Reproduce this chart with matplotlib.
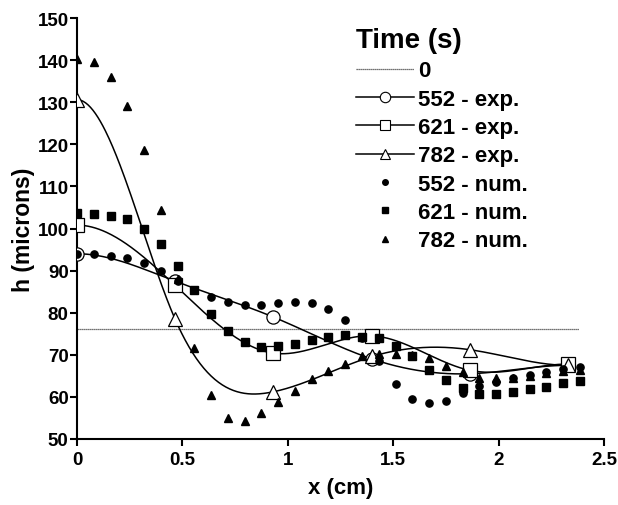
import matplotlib
matplotlib.use('Agg')
import matplotlib.pyplot as plt
from matplotlib.lines import Line2D
import numpy as np

# experimental points (fitted with smooth curves)
x_exp = [0.0, 0.465, 0.93, 1.40, 1.865, 2.33]
h552_exp = [94.0, 87.5, 79.0, 69.0, 65.5, 67.5]
h621_exp = [100.8, 86.5, 70.4, 74.5, 66.3, 67.8]
h782_exp = [130.6, 78.5, 61.2, 69.6, 71.2, 67.5]

# numerical points
x_num = [0.0, 0.08, 0.159, 0.239, 0.318, 0.398, 0.477, 0.557, 0.636, 0.716,
         0.795, 0.875, 0.954, 1.034, 1.113, 1.193, 1.272, 1.352, 1.431, 1.511,
         1.59, 1.67, 1.749, 1.829, 1.908, 1.988, 2.067, 2.147, 2.226, 2.306, 2.385]
h552_num = [94.0, 93.9, 93.5, 92.9, 91.8, 89.8, 87.5, 85.5, 83.8, 82.6,
            81.9, 81.9, 82.2, 82.6, 82.2, 80.9, 78.2, 74.0, 68.5, 63.1,
            59.6, 58.5, 59.1, 61.0, 62.5, 63.6, 64.4, 65.2, 66.0, 66.7, 67.0]
h621_num = [103.7, 103.4, 103.0, 102.3, 100.0, 96.2, 91.0, 85.5, 79.8, 75.6,
            73.1, 71.9, 72.1, 72.6, 73.5, 74.3, 74.8, 74.3, 74.0, 72.2,
            69.8, 66.5, 63.9, 62.0, 60.8, 60.6, 61.2, 61.8, 62.4, 63.2, 63.8]
h782_num = [140.3, 139.5, 135.9, 129.2, 118.7, 104.4, 88.0, 71.7, 60.5, 55.0,
            54.3, 56.1, 58.8, 61.5, 64.3, 66.1, 67.8, 69.6, 70.3, 70.2,
            70.0, 69.2, 67.4, 65.8, 64.6, 64.4, 64.6, 65.0, 65.6, 66.2, 66.5]

h0_level = 76.2
h0_x = [0.0, 2.38]


def clamped_spline(x, y, xs):
    # cubic spline with zero slope at both ends
    x = np.asarray(x, float)
    y = np.asarray(y, float)
    n = len(x)
    h = np.diff(x)
    A = np.zeros((n, n))
    b = np.zeros(n)
    A[0, 0], A[0, 1] = 2 * h[0], h[0]
    b[0] = 6 * ((y[1] - y[0]) / h[0])
    for i in range(1, n - 1):
        A[i, i - 1] = h[i - 1]
        A[i, i] = 2 * (h[i - 1] + h[i])
        A[i, i + 1] = h[i]
        b[i] = 6 * ((y[i + 1] - y[i]) / h[i] - (y[i] - y[i - 1]) / h[i - 1])
    A[-1, -2], A[-1, -1] = h[-1], 2 * h[-1]
    b[-1] = 6 * (0 - (y[-1] - y[-2]) / h[-1])
    M = np.linalg.solve(A, b)
    idx = np.clip(np.searchsorted(x, xs) - 1, 0, n - 2)
    x0, x1 = x[idx], x[idx + 1]
    hh = x1 - x0
    return (M[idx] * (x1 - xs) ** 3 / (6 * hh) + M[idx + 1] * (xs - x0) ** 3 / (6 * hh)
            + (y[idx] / hh - M[idx] * hh / 6) * (x1 - xs)
            + (y[idx + 1] / hh - M[idx + 1] * hh / 6) * (xs - x0))


plt.rcParams['font.family'] = 'Liberation Sans'
plt.rcParams['font.weight'] = 'bold'

fig = plt.figure(figsize=(6.18, 5.06), dpi=100)
ax = fig.add_axes([77 / 618, 66 / 506, 527 / 618, 421 / 506])

xs = np.linspace(x_exp[0], x_exp[-1], 400)

ax.plot(h0_x, [h0_level, h0_level], color='#444444', lw=0.9, ls=(0, (1, 0.6)))

exp_series = [(h552_exp, 'o'), (h621_exp, 's'), (h782_exp, '^')]
for hy, mk in exp_series:
    ax.plot(xs, clamped_spline(x_exp, hy, xs), color='black', lw=1.1)
    ax.plot(x_exp, hy, ls='none', marker=mk, ms=9.5, mfc='white',
            mec='black', mew=0.9, zorder=4)

ax.plot(x_num, h552_num, ls='none', marker='o', ms=5.2, color='black', zorder=5)
ax.plot(x_num, h621_num, ls='none', marker='s', ms=5.6, color='black', zorder=5)
ax.plot(x_num, h782_num, ls='none', marker='^', ms=6.2, color='black', zorder=5)

ax.set_xlim(0, 2.5)
ax.set_ylim(50, 150)
ax.set_xticks([0, 0.5, 1, 1.5, 2, 2.5])
ax.set_xticklabels(['0', '0.5', '1', '1.5', '2', '2.5'])
ax.set_yticks(np.arange(50, 151, 10))

for s in ['top', 'right']:
    ax.spines[s].set_visible(False)
for s in ['left', 'bottom']:
    ax.spines[s].set_linewidth(1.5)
ax.tick_params(direction='out', length=5, width=1.5, pad=1, labelsize=13.5)
ax.tick_params(axis='x', pad=4)

ax.set_xlabel('x (cm)', fontsize=16, fontweight='bold', labelpad=6)
ax.set_ylabel('h (microns)', fontsize=16.5, fontweight='bold', labelpad=2)

handles = [
    Line2D([], [], color='#444444', lw=0.9, ls=(0, (1, 0.6))),
    Line2D([], [], color='black', lw=1.1, marker='o', ms=7.5, mfc='white', mec='black', mew=0.8),
    Line2D([], [], color='black', lw=1.1, marker='s', ms=7.5, mfc='white', mec='black', mew=0.8),
    Line2D([], [], color='black', lw=1.1, marker='^', ms=7.5, mfc='white', mec='black', mew=0.8),
    Line2D([], [], ls='none', marker='o', ms=4.0, color='black'),
    Line2D([], [], ls='none', marker='s', ms=4.0, color='black'),
    Line2D([], [], ls='none', marker='^', ms=4.5, color='black'),
]
labels = ['0', '552 - exp.', '621 - exp.', '782 - exp.',
          '552 - num.', '621 - num.', '782 - num.']
leg = fig.legend(handles, labels, loc='upper left',
                 bbox_to_anchor=(356 / 618, 1 - 28 / 506),
                 frameon=False, borderpad=0, borderaxespad=0,
                 handlelength=2.6, handletextpad=0.2, labelspacing=0.33,
                 title='Time (s)', alignment='left',
                 prop={'size': 16, 'weight': 'bold'},
                 title_fontproperties={'size': 20, 'weight': 'bold'})

fig.savefig('out.png', dpi=100)
